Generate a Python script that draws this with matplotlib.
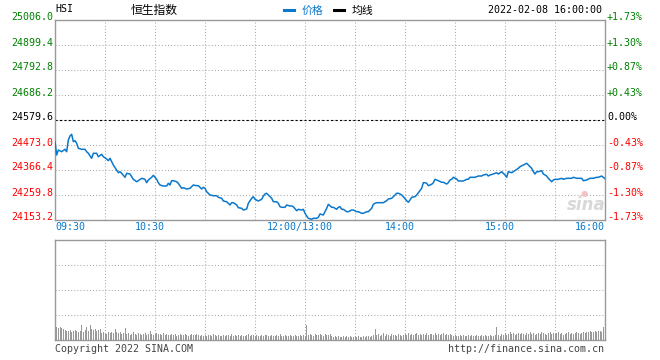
import matplotlib
matplotlib.use("Agg")
import matplotlib.pyplot as plt
from matplotlib.lines import Line2D
from matplotlib.transforms import ScaledTranslation

symbol = "HSI"
title = "恒生指数"
timestamp = "2022-02-08 16:00:00"
prev_close = 24579.6
legend_labels = ["价格", "均线"]
footer_left = "Copyright 2022 SINA.COM"
footer_right = "http://finance.sina.com.cn"

# trading minutes since 09:30 (12:00 and 13:00 share minute 150)
minutes = [0, 1, 2, 4, 6, 7, 8, 9, 10, 11, 12, 13, 14, 16, 18, 19, 20, 22, 23, 25,
           26, 28, 29, 31, 32, 33, 34, 35, 37, 38, 39, 40, 42, 43, 45, 47, 49, 50, 52, 54,
           55, 56, 58, 59, 61, 62, 63, 65, 67, 68, 69, 70, 71, 73, 74, 76, 77, 79, 81, 83,
           85, 86, 88, 89, 90, 91, 93, 95, 97, 98, 100, 101, 103, 105, 106, 107, 109, 110, 112, 113,
           115, 116, 118, 119, 120, 122, 124, 125, 126, 127, 128, 130, 131, 133, 134, 135, 136, 138, 139, 141,
           142, 143, 145, 146, 148, 149, 150, 151, 152, 154, 155, 157, 158, 159, 161, 162, 163, 164, 166, 167,
           169, 170, 171, 172, 173, 175, 176, 178, 179, 181, 182, 184, 185, 187, 188, 190, 191, 192, 193, 195,
           197, 199, 200, 202, 203, 205, 206, 207, 208, 209, 211, 212, 213, 214, 216, 217, 218, 220, 221, 222,
           223, 224, 226, 227, 228, 229, 230, 232, 233, 235, 236, 237, 238, 239, 241, 242, 244, 245, 247, 248,
           249, 251, 252, 253, 254, 256, 257, 259, 260, 261, 263, 265, 266, 268, 270, 271, 272, 274, 275, 278,
           279, 281, 283, 284, 286, 287, 288, 289, 290, 292, 293, 295, 296, 297, 298, 299, 300, 302, 304, 305,
           307, 308, 310, 311, 313, 314, 316, 317, 319, 321, 323, 325, 326, 328, 330]

prices = [24487.1, 24430.4, 24451.7, 24444.4, 24454.7, 24444.4, 24494.3, 24511.4, 24518.6, 24487.1,
          24491.3, 24480.3, 24458.9, 24454.7, 24454.7, 24444.4, 24437.6, 24416.3, 24437.6, 24437.6,
          24423.1, 24433.3, 24423.1, 24413.3, 24406.1, 24416.3, 24401.8, 24387.7, 24366.4, 24354.9,
          24359.2, 24352.3, 24335.3, 24352.3, 24349.3, 24326.7, 24316.5, 24320.8, 24331.0, 24326.7,
          24312.3, 24323.8, 24335.3, 24343.8, 24326.7, 24312.3, 24302.4, 24298.2, 24298.2, 24309.7,
          24302.4, 24320.8, 24320.8, 24316.5, 24309.7, 24288.4, 24290.9, 24285.4, 24288.4, 24302.4,
          24299.5, 24299.5, 24285.4, 24292.6, 24288.4, 24273.9, 24259.8, 24256.8, 24256.8, 24250.0,
          24245.7, 24234.2, 24231.2, 24217.2, 24227.0, 24227.0, 24217.2, 24205.7, 24203.1, 24195.8,
          24200.1, 24224.4, 24245.7, 24252.6, 24241.5, 24234.2, 24241.5, 24255.5, 24264.1, 24267.1,
          24259.8, 24245.7, 24231.2, 24231.2, 24224.4, 24209.9, 24207.4, 24207.4, 24217.2, 24212.9,
          24212.9, 24209.9, 24192.9, 24198.8, 24195.8, 24198.8, 24181.8, 24170.3, 24160.5, 24156.2,
          24160.5, 24160.5, 24164.7, 24178.8, 24174.5, 24188.6, 24203.1, 24220.1, 24207.4, 24207.4,
          24198.8, 24207.4, 24209.9, 24198.8, 24198.8, 24188.6, 24188.6, 24195.8, 24195.8, 24188.6,
          24188.6, 24181.8, 24181.8, 24188.6, 24188.6, 24203.1, 24220.1, 24224.4, 24227.0, 24227.0,
          24227.0, 24235.5, 24242.7, 24245.7, 24252.6, 24267.1, 24267.1, 24264.1, 24259.8, 24252.6,
          24235.5, 24228.7, 24238.5, 24250.0, 24252.6, 24259.8, 24269.6, 24288.4, 24312.3, 24312.3,
          24309.7, 24299.5, 24305.4, 24312.3, 24326.7, 24323.8, 24320.8, 24314.0, 24314.0, 24306.7,
          24312.3, 24323.8, 24326.7, 24335.3, 24328.0, 24319.5, 24319.5, 24319.5, 24326.7, 24326.7,
          24335.3, 24335.3, 24335.3, 24337.8, 24340.8, 24340.8, 24345.1, 24348.1, 24340.8, 24345.1,
          24349.3, 24354.9, 24349.3, 24359.2, 24345.1, 24335.3, 24359.2, 24354.9, 24359.2, 24373.7,
          24380.5, 24387.7, 24395.0, 24387.7, 24373.7, 24359.2, 24349.3, 24359.2, 24359.2, 24363.4,
          24349.3, 24340.8, 24331.0, 24323.8, 24316.5, 24323.8, 24326.7, 24326.7, 24331.0, 24326.7,
          24331.0, 24331.0, 24331.0, 24335.3, 24331.0, 24331.0, 24331.0, 24320.8, 24323.8, 24331.0,
          24331.0, 24335.3, 24335.3, 24340.8, 24329.5]

# per-minute volume (arbitrary units, panel top = 100)
volume = [12, 13, 12, 13, 12, 11, 10, 9, 9, 10,
          8, 9, 10, 9, 8, 9, 15, 8, 10, 13,
          9, 15, 11, 10, 11, 9, 10, 11, 7, 8,
          7, 6, 8, 7, 8, 7, 11, 8, 7, 8,
          6, 7, 12, 6, 7, 5, 6, 8, 6, 5,
          7, 6, 5, 6, 7, 5, 6, 9, 6, 5,
          6, 7, 6, 6, 5, 7, 5, 6, 5, 5,
          6, 5, 6, 4, 5, 6, 5, 5, 6, 5,
          4, 5, 6, 5, 5, 6, 5, 4, 5, 4,
          5, 4, 5, 5, 4, 6, 5, 4, 5, 4,
          4, 5, 4, 5, 5, 4, 6, 4, 5, 4,
          5, 4, 5, 4, 4, 5, 6, 4, 5, 5,
          4, 5, 4, 4, 5, 4, 5, 5, 4, 4,
          5, 4, 4, 5, 4, 6, 4, 4, 5, 4,
          4, 5, 4, 4, 5, 4, 4, 5, 4, 5,
          4, 15, 5, 6, 5, 4, 6, 5, 5, 6,
          5, 4, 6, 5, 5, 6, 4, 3, 4, 3,
          4, 3, 3, 4, 3, 4, 3, 4, 3, 3,
          4, 3, 4, 3, 3, 4, 3, 4, 4, 3,
          4, 5, 11, 5, 6, 4, 5, 7, 4, 6,
          5, 4, 6, 5, 5, 4, 6, 5, 4, 5,
          6, 5, 7, 5, 6, 5, 6, 7, 5, 6,
          5, 6, 5, 7, 5, 6, 6, 5, 7, 5,
          6, 5, 6, 7, 5, 6, 5, 6, 5, 4,
          5, 4, 4, 5, 4, 5, 4, 4, 5, 4,
          5, 4, 4, 5, 4, 4, 5, 4, 5, 4,
          4, 5, 4, 4, 5, 13, 5, 4, 6, 5,
          7, 5, 6, 8, 6, 7, 5, 6, 7, 6,
          7, 6, 5, 7, 6, 8, 6, 7, 5, 6,
          7, 6, 8, 7, 6, 5, 7, 8, 6, 7,
          6, 7, 8, 6, 7, 5, 6, 7, 8, 6,
          7, 6, 7, 8, 7, 6, 7, 8, 7, 8,
          8, 9, 8, 8, 9, 8, 9, 9, 8, 13,
          16]
volume_minutes = list(range(len(volume)))

price_ticks = [24153.2, 24259.8, 24366.4, 24473.0, 24579.6, 24686.2, 24792.8, 24899.4, 25006.0]
pct_labels = ["-1.73%", "-1.30%", "-0.87%", "-0.43%", "0.00%", "+0.43%", "+0.87%", "+1.30%", "+1.73%"]
time_tick_pos = [0, 60, 150, 210, 270, 330]
time_tick_labels = ["09:30", "10:30", "12:00/13:00", "14:00", "15:00", "16:00"]

BLUE = "#0a78cc"
GREEN = "#008000"
RED = "#ff0000"
FRAME = "#999999"
GRID = "#aaaaaa"
MONO = "DejaVu Sans Mono"
CJK = ["Noto Sans CJK SC", "DejaVu Sans"]
FS = 7.2

W, H = 660, 360
fig = plt.figure(figsize=(W / 100, H / 100), dpi=100)
ax = fig.add_axes([55 / W, 1 - 220 / H, 550 / W, 200 / H])
axv = fig.add_axes([55 / W, 1 - 340 / H, 550 / W, 100 / H])

for a in (ax, axv):
    a.set_xlim(0, 330)
    a.set_xticks(range(0, 331, 30))
    a.tick_params(length=0, labelleft=False, labelbottom=False)
    a.grid(True, color=GRID, ls=(0, (1, 2)), lw=0.75)
    for s in a.spines.values():
        s.set_color(FRAME)
        s.set_linewidth(1.0)
    a.set_axisbelow(True)

ax.set_ylim(price_ticks[0], price_ticks[-1])
ax.set_yticks(price_ticks)
ax.axhline(prev_close, color="black", ls=(0, (2, 2)), lw=0.8, zorder=2)
ax.plot(minutes, prices, color=BLUE, lw=1.1, zorder=3)

up = ScaledTranslation(0, 1.8 / 72, fig.dpi_scale_trans)
for val, pct in zip(price_ticks, pct_labels):
    col = GREEN if val > prev_close + 1e-6 else (RED if val < prev_close - 1e-6 else "black")
    ax.text(-2 / 550, val, f"{val:.1f}", transform=ax.get_yaxis_transform() + up,
            ha="right", va="center", color=col, family=MONO, fontsize=FS)
    ax.text(1 + 2 / 550, val, pct, transform=ax.get_yaxis_transform() + up,
            ha="left", va="center", color=col, family=MONO, fontsize=FS)

left_shift = ScaledTranslation(-5.5 / 100, 0, fig.dpi_scale_trans)
for i, (pos, lab) in enumerate(zip(time_tick_pos, time_tick_labels)):
    if i == 0:
        ha, tr = "left", ax.get_xaxis_transform()
    elif i == len(time_tick_pos) - 1:
        ha, tr = "right", ax.get_xaxis_transform()
    else:
        ha, tr = "center", ax.get_xaxis_transform() + left_shift
    ax.text(pos, -7.3 / 200, lab, transform=tr, ha=ha, va="center",
            color=BLUE, family=MONO, fontsize=FS)

axv.set_ylim(0, 100)
axv.set_yticks([25, 50, 75])
axv.bar(volume_minutes, volume, width=0.6, color="#999999", zorder=3)

# watermark
ax.text(0.965, 0.075, "sina", transform=ax.transAxes, ha="center", va="center",
        fontsize=12, fontweight="bold", style="italic", color="#d8d8d8", family="DejaVu Sans", zorder=1)
ax.text(0.962, 0.135, "●", transform=ax.transAxes, ha="center", va="center",
        fontsize=6, color="#f2c4c4", zorder=1)

# header
fig.text(55 / W, 1 - 9.5 / H, symbol, ha="left", va="center", family=MONO, fontsize=FS, color="black")
fig.text(131 / W, 1 - 10 / H, title, ha="left", va="center", family=CJK, fontsize=8.5, color="black")
fig.text(602 / W, 1 - 10 / H, timestamp, ha="right", va="center", family=MONO, fontsize=FS, color="black")

handles = [Line2D([], [], color=BLUE, lw=2.2), Line2D([], [], color="black", lw=2.2)]
leg = fig.legend(handles, legend_labels, loc="center left", bbox_to_anchor=(284 / W, 1 - 10.5 / H),
                 bbox_transform=fig.transFigure, ncol=2, frameon=False, borderpad=0, borderaxespad=0,
                 handlelength=0.95, handletextpad=0.65, columnspacing=1.0,
                 prop={"family": CJK, "size": 7.8}, labelcolor=[BLUE, "black"])

fig.text(55 / W, 1 - 349 / H, footer_left, ha="left", va="center", family=MONO, fontsize=FS, color="#444444")
fig.text(604 / W, 1 - 349 / H, footer_right, ha="right", va="center", family=MONO, fontsize=FS, color="#444444")

fig.savefig("out.png", dpi=100)
